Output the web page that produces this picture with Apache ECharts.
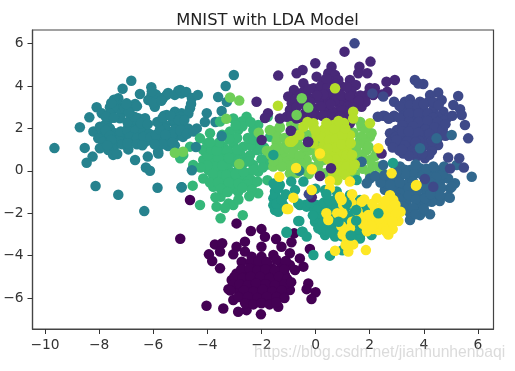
<!DOCTYPE html>
<html><head><meta charset="utf-8">
<script src="https://cdn.jsdelivr.net/npm/echarts@6/dist/echarts.min.js"></script>
<style>html,body{margin:0;padding:0;background:#fff}#c{width:515px;height:371px}</style>
</head><body><div id="c"></div>
<script>
const xTicks=[-10,-8,-6,-4,-2,0,2,4,6];
const yTicks=[-6,-4,-2,0,2,4,6];
const chartTitle="MNIST with LDA Model";
const watermark="https://blog.csdn.net/jianhunhenbaqi";
const viridis=["#440154","#482878","#3e4989","#31688e","#26828e","#1f9e89","#35b779","#6ece58","#b5de2b","#fde725"];

const digit0=[[-2.92,-2.48],[-2.39,-2.84],[-2.0,-2.75],[-1.87,-3.11],[-1.46,-3.22],[-0.79,-2.95],[-0.89,-3.37],[-3.72,-3.47],[-3.45,-3.42],[-3.53,-3.81],[-3.94,-3.94],[-3.82,-4.25],[-3.53,-4.6],[-2.92,-3.58],[-2.61,-3.34],[-2.61,-3.81],[-3.04,-3.94],[-2.0,-3.58],[-1.26,-3.58],[-0.21,-3.69],[-0.95,-3.89],[-1.56,-3.97],[-2.0,-4.05],[-2.36,-4.05],[-2.73,-4.29],[-2.36,-4.44],[-2.0,-4.44],[-1.62,-4.6],[-1.26,-4.44],[-0.95,-4.44],[-0.58,-4.13],[-0.45,-4.52],[-0.76,-4.68],[-2.92,-4.84],[-2.55,-4.76],[-2.18,-4.92],[-1.81,-4.92],[-1.44,-4.92],[-1.13,-4.92],[-3.1,-5.15],[-2.73,-5.23],[-2.36,-5.31],[-2.0,-5.31],[-1.62,-5.31],[-1.26,-5.31],[-0.27,-5.31],[-3.22,-5.58],[-2.86,-5.62],[-2.49,-5.7],[-2.12,-5.78],[-1.75,-5.7],[-1.38,-5.7],[-0.95,-5.62],[-0.33,-5.58],[0,-5.73],[-3.04,-6.09],[-2.67,-6.02],[-2.3,-6.09],[-1.93,-6.09],[-1.56,-6.02],[-0.15,-6.05],[-1.38,-6.41],[-2.55,-6.57],[-2.86,-6.65],[-2.02,-6.77],[-3.41,-6.49],[-4.03,-6.36],[-4.64,-1.38],[-5.0,-3.2],[-1.1,-5.3],[-1.2,-5.9],[-2.5,-5.2],[-2.2,-5.5],[-1.8,-4.5],[-2.7,-4.9],[-1.5,-5.0],
[-2.4,-4.3],[-2.1,-4.25],[-1.8,-4.3],[-1.45,-4.2],[-1.1,-4.25],[-2.75,-4.65],[-2.45,-4.6],[-2.15,-4.7],[-1.85,-4.65],[-1.5,-4.7],[-1.15,-4.65],[-3.0,-5.0],[-2.7,-5.05],[-2.4,-5.0],[-2.05,-5.0],[-1.7,-5.05],[-1.35,-5.0],[-1.05,-5.1],[-3.05,-5.35],[-2.8,-5.35],[-2.5,-5.4],[-2.2,-5.3],[-1.85,-5.35],[-1.5,-5.4],[-1.15,-5.35],[-0.9,-5.25],[-3.15,-5.65],[-2.65,-5.65],[-2.3,-5.7],[-1.95,-5.6],[-1.6,-5.7],[-1.25,-5.65],[-2.85,-5.95],[-2.5,-5.95],[-2.15,-6.0],[-1.8,-5.95],[-1.45,-5.95],[-1.15,-6.0],[-2.6,-6.25],[-2.3,-6.3],[-2.0,-6.25],[-1.7,-6.3],[-1.45,-6.2]];

const digit4=[[-6.81,4.25],[-7.13,3.87],[-6.07,3.94],[-6.49,3.62],[-6.06,3.58],[-6.18,3.34],[-5.94,3.02],[-7.29,3.42],[-7.35,3.18],[-5.5,3.58],[-5.65,3.42],[-5.07,3.78],[-4.95,3.65],[-8.09,3.0],[-7.9,2.71],[-8.36,2.52],[-8.71,2.05],[-8.21,1.85],[-7.97,2.08],[-7.6,3.0],[-7.41,2.95],[-6.98,3.18],[-6.67,3.15],[-6.8,3.0],[-7.1,3.0],[-7.6,2.71],[-7.66,2.4],[-7.78,2.16],[-7.6,2.0],[-7.41,1.77],[-7.85,1.77],[-8.03,1.53],[-7.85,1.37],[-7.17,2.71],[-7.23,2.48],[-6.8,2.4],[-6.55,2.48],[-6.3,2.48],[-6.67,2.16],[-6.49,2.08],[-6.92,2.08],[-7.04,1.77],[-6.8,1.77],[-6.55,1.77],[-6.43,1.53],[-6.8,1.37],[-7.04,1.53],[-7.29,1.45],[-7.41,1.22],[-5.5,2.63],[-5.2,2.79],[-4.95,2.71],[-5.26,2.32],[-5.57,2.16],[-5.14,2.0],[-5.44,1.85],[-5.69,1.69],[-4.89,2.08],[-5.2,1.61],[-5.5,1.45],[-6.12,1.45],[-5.87,1.45],[-6.3,1.37],[-5.38,1.21],[-5.81,0.82],[-8.53,1.08],[-7.97,1.06],[-8.24,0.67],[-8.46,0.38],[-7.66,0.98],[-7.48,0.75],[-7.33,0.79],[-6.92,1.01],[-6.67,0.51],[-6.2,0.67],[-6.27,0.16],[-6.12,0.0],[-8.13,-0.72],[-7.29,-1.13],[-5.84,-0.8],[-4.95,-0.78],[-6.33,-1.9],[-9.65,1.07],[-5.64,3.43],[-5.45,3.67],[-5.2,3.58],[-5.0,3.81],[-4.78,3.72],[-4.57,3.43],[-4.35,3.58],[-3.6,3.48],[-3.28,3.25],[-3.32,4.0],[-3.02,4.52],[-3.47,2.82],[-4.02,2.72],[-4.09,2.3],[-3.7,2.3],[-4.39,2.0],[-4.71,2.0],[-4.9,1.6],[-5.2,1.2],[-5.45,1.17],[-5.82,0.9],[-4.64,2.95],[-4.7,2.7],[-5.0,2.55],[-5.25,2.4],[-5.6,2.6],[-5.55,2.0],[-5.2,1.95],[-5.3,1.7],
[-7.75,2.55],[-7.45,2.5],[-7.9,2.0],[-7.75,1.9],[-7.6,1.65],[-7.2,1.85],[-6.95,1.9],[-6.65,1.9],[-6.35,1.9],[-6.15,1.75],[-6.95,2.3],[-6.7,2.55],[-6.45,2.25],[-6.2,2.2],[-6.85,1.6],[-6.6,1.55],[-6.35,1.6],[-6.1,1.6],[-5.9,1.7],[-7.15,1.25],[-6.95,1.3],[-6.6,1.25],[-6.4,1.2],[-7.55,1.45],[-7.7,1.2],[-7.05,2.95],[-6.9,2.75],[-5.75,1.95],[-5.85,2.3],[-5.65,2.5],[-5.35,2.6],[-5.05,2.4],[-4.85,2.4],[-5.0,1.9],[-4.75,1.75],[-5.3,1.35],[-5.55,1.7],[-5.65,1.25],[-5.95,1.25],[-4.5,1.85],[-4.6,3.15],[-5.9,3.6],[-6.05,3.75],[-6.0,3.2],[-7.0,3.15],[-6.6,3.05],[-7.45,3.35],[-7.55,3.2],[-5.7,3.3]];

const digit6=[[-4.15,0.98],[-3.78,1.14],[-3.41,1.14],[-3.04,1.29],[-2.67,1.14],[-3.9,0.82],[-3.53,0.82],[-3.16,0.82],[-2.79,0.82],[-2.42,0.74],[-4.15,0.51],[-3.78,0.43],[-3.41,0.51],[-3.04,0.43],[-2.67,0.35],[-2.3,0.27],[-3.96,0.04],[-3.59,0.04],[-3.22,0.04],[-2.86,0.04],[-2.49,-0.12],[-2.12,-0.04],[-4.15,-0.36],[-3.78,-0.36],[-3.41,-0.36],[-3.04,-0.44],[-2.67,-0.36],[-2.3,-0.59],[-1.78,-0.44],[-3.78,-0.75],[-3.04,-0.83],[-2.12,-1.06],[-2.86,-0.99],[-4.54,-0.7],[-3.51,-1.22],[-3.22,-1.54],[-3.66,-1.69],[-3.04,-1.61],[-4.27,-1.61],[-2.69,-2.09],[-3.51,-2.24],[-2.18,0.98],[-2.12,1.29],[-1.81,0.59],[-2.42,1.22],[-3.3,0.3],[-3.6,0.6],[-3.0,0.7],[-3.5,-0.1],[-3.1,-0.1],[-2.8,-0.2],[-3.3,-0.7],[-2.6,0.6],[-2.4,-0.4],[-2.55,2.55],[-3.04,2.47],[-3.53,2.32],[-2.73,2.32],[-2.12,2.16],[-1.68,1.61],[-2.3,1.92],[-2.86,1.92],[-3.16,1.85],[-3.9,1.77],[-4.27,1.53],[-4.64,1.14],[-4.89,0.74],[-5.0,0.59],[-4.52,0.27],[-4.0,1.3],[-3.45,1.7],[-1.77,2.55],[-1.5,0.95],[-1.9,1.1],[-1.75,0.3],
[-4.0,0.7],[-3.85,1.0],[-3.65,0.95],[-3.25,0.95],[-2.9,1.0],[-3.7,0.2],[-3.45,0.25],[-3.2,0.6],[-2.85,0.5],[-2.45,0.45],[-4.0,0.25],[-4.25,0.15],[-3.8,-0.15],[-3.3,-0.2],[-2.95,-0.15],[-2.65,-0.05],[-2.3,0.05],[-3.9,-0.55],[-3.6,-0.55],[-3.2,-0.55],[-2.85,-0.6],[-2.55,-0.65],[-3.5,-0.85],[-3.25,-1.0],[-2.7,-0.8],[-2.35,-0.9],[-2.9,1.55],[-3.2,1.5],[-2.5,1.55],[-3.55,1.35],[-3.9,1.35],[-2.7,2.1],[-2.4,2.3],[-2.95,2.15],[-2.3,1.5],[-2.05,1.0],[-2.0,0.55],[-1.95,0.15],[-2.15,-0.5],[-2.45,-1.2],[-3.7,-1.25],[-3.35,-1.75],[-2.85,-1.35]];

const digit7=[[-1.44,1.37],[-1.19,0.82],[-0.95,0.59],[-0.64,1.22],[-0.45,0.82],[-0.14,1.06],[0.04,0.67],[-0.33,0.51],[-0.76,0.35],[-1.13,0.43],[-0.95,-0.12],[-0.45,0.04],[0.29,0.51],[0.35,-0.12],[0.78,-0.2],[1.64,1.45],[1.89,0.98],[1.58,0.82],[2.01,0.51],[2.5,-0.12],[-1.56,0.2],[1.7,2.08],[2.01,1.61],[1.39,1.14],[1.7,1.61],[2.07,1.77],[2.26,0.98],[-1.5,1.85],[-1.32,2.03],[-0.82,1.22],[1.15,1.53],[-1.2,0.89],[-3.16,3.46],[-2.82,3.31],[-3.3,2.45],[-2.82,0.32],[-4.9,0.9],[-2.1,1.8],[-1.69,1.92],[-1.32,2.07],[-0.7,2.0],[-0.9,1.8],[-0.3,1.7],[1.6,0.3],[2.0,-0.1],[1.3,0.0],
[-1.1,1.2],[-1.3,1.0],[-1.0,1.05],[-0.8,0.85],[-0.6,0.7],[-0.25,0.95],[-0.2,0.2],[0.1,0.3],[0.1,1.0],[-0.55,0.35],[-1.0,0.25],[-1.25,0.2],[-1.4,0.55],[-0.7,-0.1],[-0.25,-0.15],[0.1,0.0],[-1.4,1.6],[-1.15,1.55],[-0.95,1.55],[-0.6,1.6],[-0.35,1.15],[-0.05,1.5],[0.2,1.45],[1.4,1.8],[1.55,1.2],[1.8,1.3],[1.95,1.15],[2.2,0.7],[1.75,0.6],[1.5,0.55],[2.1,0.25],[1.75,0.1],[1.45,-0.15],[2.3,0.2],[-0.6,0.0],[1.85,2.0],[1.65,2.3],[1.2,2.2],[-0.9,2.2],[-0.55,1.85],[-1.5,1.05],[-1.65,0.75],[-1.55,0.45],[-1.8,0.95]];

const digit1=[[1.07,5.62],[-1.38,4.49],[-0.01,5.07],[0.59,4.91],[1.62,4.91],[2.03,5.15],[-0.48,4.75],[-0.7,4.6],[1.58,4.6],[1.91,4.6],[0.04,4.44],[0.47,4.6],[0.72,4.52],[0.29,4.2],[0.59,4.2],[0.84,4.28],[-0.45,4.13],[0.96,3.97],[1.27,4.28],[1.49,4.05],[2.62,4.2],[2.93,4.28],[2.65,3.73],[2.19,3.89],[1.89,3.57],[2.13,3.57],[1.33,3.73],[-0.8,3.81],[-1.01,3.5],[-0.45,3.73],[-0.08,3.89],[0.16,3.81],[-0.08,3.42],[0.16,3.34],[0.47,3.42],[0.78,3.57],[1.09,3.34],[1.39,3.34],[-0.88,3.18],[-0.95,2.87],[-0.39,3.1],[-0.02,2.94],[0.35,2.87],[0.66,2.79],[1.7,3.02],[0,2.63],[-1.32,2.47],[-1.07,2.55],[-0.7,2.47],[-0.39,2.71],[0.47,2.55],[1.15,2.47],[1.27,2.24],[-0.89,1.88],[0.6,3.7],[0.4,3.1],[0.9,3.1],[-2.18,3.26],[-1.76,2.72],[-1.87,2.49],
[0.2,4.0],[0.45,3.95],[0.75,3.85],[0.3,3.6],[0.05,3.55],[-0.3,3.45],[-0.25,3.85],[-0.6,3.55],[-0.75,3.35],[0.7,3.3],[0.95,3.55],[1.25,3.55],[1.15,3.95],[0.75,4.1],[0.4,4.35],[0.55,3.15],[0.2,3.05],[1.2,3.05],[1.0,2.85],[-0.2,3.25],[-0.7,3.0],[-0.15,2.65],[-0.55,2.5],[0.25,2.6],[0.65,2.5],[0.9,2.55],[1.65,3.55],[1.85,3.25],[1.6,3.3],[2.0,3.9],[2.45,3.6],[1.4,3.0],[1.25,2.75],[-0.9,2.6]];

const digit2=[[3.67,4.28],[3.98,4.09],[3.8,4.12],[5.27,3.53],[4.53,3.69],[4.23,3.57],[2.9,3.26],[3.3,3.26],[3.49,3.37],[3.86,3.26],[4.17,3.26],[4.66,3.34],[5.09,3.1],[5.34,2.9],[5.4,2.63],[5.52,2.16],[5.64,1.53],[2.56,2.59],[2.87,2.55],[3.24,2.87],[3.61,2.95],[3.98,2.95],[4.35,2.87],[4.72,2.79],[3.24,2.4],[3.61,2.47],[3.98,2.47],[4.84,2.47],[3.43,2.08],[3.86,2.0],[4.23,2.08],[4.6,2.16],[3.0,1.92],[2.75,1.77],[3.24,1.61],[3.61,1.69],[3.98,1.61],[4.35,1.77],[4.66,1.69],[2.75,1.37],[3.06,1.22],[3.61,1.22],[4.1,1.22],[4.53,1.22],[3.24,0.82],[3.73,0.67],[4.04,0.59],[1.44,6.01],[4.0,2.2],[3.4,1.4],[3.9,0.95],[4.3,0.95],[2.1,3.65],[2.5,3.5],
[3.5,3.1],[3.75,3.1],[4.0,3.15],[4.35,3.25],[4.55,3.1],[3.1,3.05],[2.9,2.6],[3.1,2.5],[3.45,2.7],[3.8,2.7],[4.15,2.7],[4.5,2.55],[4.75,2.35],[5.05,2.6],[4.35,2.5],[3.45,2.3],[3.8,2.3],[4.15,2.35],[4.5,2.3],[3.2,2.15],[3.6,2.1],[4.05,1.95],[4.4,2.05],[4.7,1.95],[2.5,2.6],[2.3,2.55],[2.7,2.45],[2.95,1.6],[3.2,1.85],[3.45,1.85],[3.8,1.8],[4.2,1.75],[4.5,1.5],[4.8,1.65],[4.8,2.2],[3.0,1.45],[3.3,1.2],[3.85,1.4],[4.3,1.4],[3.55,0.95],[3.7,1.35],[2.85,1.1],[3.1,0.95],[3.65,0.85],[4.2,0.75],[3.45,0.7],[3.95,0.8],[3.2,1.0]];

const digit3=[[3.12,0.2],[3.49,0.04],[3.86,0.12],[4.23,-0.12],[4.47,0.04],[2.75,-0.28],[3.12,-0.28],[3.49,-0.36],[3.86,-0.75],[4.6,-0.51],[4.9,-0.36],[5.15,-0.59],[2.56,-0.67],[2.93,-0.75],[3.3,-0.67],[3.61,-1.06],[4.1,-1.06],[4.47,-0.98],[4.97,-0.83],[4.9,-1.22],[3.3,-1.3],[3.86,-1.3],[4.35,-1.3],[5.03,-0.75],[4.96,-1.27],[4.59,-1.42],[4.29,-1.46],[4.23,-2.05],[3.86,-2.09],[3.49,-2.32],[3.36,-1.46],[3.49,-2.0],[3.79,-1.61],[4.05,-1.5],[3.24,-0.9],[2.93,-0.8],[2.56,-0.9],[5.77,-0.28],[5.21,0.27],[5.03,1.69],[4.47,1.53],[3.86,1.06],[1.7,0.43],[2.38,-0.36],[2.01,-0.36],[1.89,-0.59],[2.75,-0.43],[2.5,0.27],[2.62,-0.6],
[3.3,0.05],[3.65,-0.15],[3.95,-0.2],[3.3,-0.15],[3.7,0.3],[4.1,0.1],[4.35,0.2],[4.7,-0.15],[4.75,0.2],[4.45,-0.3],[3.0,-0.05],[2.85,-0.55],[3.1,-0.55],[3.6,-0.5],[4.0,-0.65],[4.25,-0.55],[3.45,-0.8],[3.75,-0.95],[4.2,-0.85],[4.65,-0.8],[3.1,-1.05],[3.45,-1.15],[3.7,-1.35],[4.05,-1.3],[4.6,-1.15],[4.25,-1.1],[2.75,-0.65],[3.05,-1.3],[3.25,-1.7],[3.6,-1.75],[4.0,-1.8],[3.7,-2.05],[2.4,-0.55],[2.2,-0.25],[2.55,-0.2]];

const digit5=[[-1.56,0.75],[-1.32,-0.67],[-1.5,-0.98],[-1.56,-1.3],[-1.32,-1.69],[-0.76,-0.91],[-0.45,-0.51],[0.78,-0.98],[0.04,-1.61],[-0.33,-1.69],[-0.58,-1.61],[0.35,-1.77],[0.66,-1.61],[1.27,-1.14],[1.52,-0.43],[1.64,-1.38],[-0.08,-2.08],[0.9,-1.77],[0.22,-2.79],[0.66,-2.87],[1.15,-3.03],[1.64,-3.03],[1.46,-2.48],[1.83,-2.32],[1.21,-2.09],[2.01,-2.0],[-0.6,-2.37],[-0.5,-2.87],[-1.07,-2.87],[-0.02,-2.4],[0.47,-2.16],[0.53,-4.0],[-0.08,-3.97],[0.99,-3.75],[-0.64,-2.37],[-1.07,-2.92],[-0.48,-2.87],[-0.33,-3.1],[0.72,-3.1],[0.35,-3.03],[1.45,-3.1],[1.64,-3.19],[2.07,-3.03],[0.35,-0.91],[-1.5,-1.22],[-1.5,-1.85],[-0.39,-1.61],[-0.02,-1.85],[-0.02,-2.24],[0.22,-1.61],[0.59,-1.77],[0.78,-2.24],[1.33,-2.24],[1.21,-1.61],[1.58,-2.24],[1.82,-1.77],[0.1,-2.71],[0.41,-2.79],[-1.5,-1.14],[-1.38,-0.83],[-1.56,-1.62],[-1.19,-1.62],[-1.38,-1.93],[-0.64,-1.54],
[0.05,-1.85],[0.3,-1.5],[0.5,-1.4],[0.75,-1.35],[0.95,-1.5],[1.05,-1.85],[0.65,-2.0],[0.35,-2.05],[0.15,-2.2],[0.25,-2.45],[0.6,-2.5],[0.95,-2.35],[1.15,-2.5],[1.45,-1.95],[1.6,-1.6],[1.8,-2.05],[1.35,-2.75],[0.9,-2.75],[-0.2,-1.5],[-0.1,-2.1],[0.55,-2.9],[1.6,-2.75],[1.9,-2.6],[-1.45,-1.55],[-1.25,-1.35],[-1.1,-1.1],[1.0,-3.1],[1.35,-3.25],[-1.55,-0.6]];

const digit8=[[0.53,1.77],[0.9,1.92],[0.65,1.3],[1.02,1.45],[0.29,1.92],[-0.08,2.08],[1.27,1.69],[0.78,0.82],[0.41,0.82],[1.15,0.98],[0.96,0.35],[0.6,0.35],[1.27,0.51],[0.96,-0.04],[1.33,0.04],[-0.95,1.37],[-0.08,1.3],[-0.08,2.24],[-0.45,2.08],[0.35,2.0],[0.66,2.16],[0.47,1.69],[0.9,1.69],[0.59,1.22],[0.04,1.69],[-0.89,1.37],[-1.39,3.07],[0.72,3.89],[1.39,2.79],[1.39,2.47],[2.01,2.24],[0.3,1.2],[1.0,1.0],[0.6,0.8],[-0.82,1.45],
[0.2,1.6],[0.5,1.45],[0.75,1.5],[1.1,1.2],[1.0,1.7],[0.75,1.1],[0.45,1.05],[0.15,0.95],[0.95,0.7],[1.15,0.75],[0.75,0.55],[0.45,0.55],[0.7,0.15],[1.15,0.2],[0.95,1.25],[1.3,1.3],[0.7,2.0],[0.4,2.25],[1.1,2.0],[0.65,-0.15],[1.1,-0.2],[1.45,0.3],[0.2,0.7],[1.35,0.75],[-0.3,2.3],[0.0,1.9],[1.05,2.25],[0.85,2.35],[0.8,-0.45],[-0.6,1.7]];

const digit9=[[-1.01,-1.8],[-0.15,-0.9],[0.99,-2.0],[1.27,-2.71],[0.72,-3.77],[1.21,-3.81],[1.39,-3.47],[1.11,-3.5],[1.86,-3.74],[2.69,-3.0],[2.32,-2.79],[1.89,-2.71],[2.69,-2.48],[3.06,-2.37],[3.14,-1.93],[2.81,-1.93],[2.5,-2.24],[2.19,-2.32],[2.87,-1.38],[2.56,-1.46],[2.26,-1.3],[2.19,-1.77],[1.95,-2.08],[0.47,-2.32],[1.02,-1.61],[1.33,-1.53],[0.9,-1.22],[1.15,-3.19],[1.7,-1.46],[0.53,-0.83],[2.1,-2.75],[2.45,-2.7],[2.6,-1.9],[2.3,-2.1],
[2.0,-2.4],[2.3,-2.5],[2.55,-2.3],[2.75,-2.2],[2.95,-2.05],[2.7,-1.7],[2.45,-1.7],[2.6,-1.4],[2.95,-1.6],[2.1,-1.55],[1.8,-1.35],[1.65,-2.15],[1.9,-2.85],[2.05,-2.6],[2.5,-2.7],[2.85,-2.75],[2.6,-2.85],[1.75,-2.5],[2.35,-2.25],[2.2,-1.95],[1.55,-1.9],[1.35,-2.4],[1.0,-3.0],[1.2,-3.0],[0.8,-2.0],[1.35,-1.1],[0.4,-2.0],[0.95,-2.6],[2.85,-2.4],[2.75,-1.15]];

const topDigit1=[[-0.27,1.37],[-0.92,1.89],[0.57,0.12],[0.16,-0.25],[2.44,0.82],[-1.99,1.45],[-0.28,1.36],[-0.14,-1.25]];
const topDigit2=[[4.9,0.63],[5.31,0.59],[4.97,0.11],[5.48,0.15],[4.04,-0.39],[4.35,-0.75],[-0.25,-1.1]];
const topDigit4=[[-3.47,1.64],[-4.42,1.12],[-4.95,-0.77],[-4.57,0.03],[-0.6,0.0]];
const topDigit5=[[2.32,-2.0],[2.86,0.37],[0.0,-0.85],[-0.9,-0.5],[1.5,-1.85],[0.4,-1.1],[1.15,-1.55],[1.5,-2.35],[0.85,-2.4],[1.3,-3.05]];
const topDigit7=[[-0.51,3.42],[-0.27,2.98],[-0.7,2.63],[-5.2,0.85]];
const topDigit9=[[-1.34,-0.28],[-0.72,0.13],[-0.14,0.07],[0.16,0.82],[0.53,-0.48],[-0.14,-0.91],[-1.06,-1.8],[-0.82,-1.27],[1.27,-0.51],[2.81,-0.12],[2.32,1.06],[3.71,-0.7],[0.96,-1.38],[3.73,-0.67]];

const layers=[
  [0,digit0],[4,digit4],[6,digit6],[7,digit7],[1,digit1],[2,digit2],[3,digit3],[5,digit5],[8,digit8],[9,digit9],
  [1,topDigit1],[2,topDigit2],[4,topDigit4],[5,topDigit5],[7,topDigit7],[9,topDigit9]
];
const fontFam='"DejaVu Sans",sans-serif';
const minus=v=>String(v).replace('-','\u2212');
const chart=echarts.init(document.getElementById('c'),null,{renderer:'canvas'});
chart.setOption({
  animation:false,
  backgroundColor:'#fff',
  title:{text:chartTitle,left:262.5,top:8,textAlign:'center',textStyle:{fontFamily:fontFam,fontSize:16.3,fontWeight:'normal',color:'#222'}},
  grid:{left:32.5,right:21.5,top:30,bottom:42,show:true,borderColor:'#444',borderWidth:1.2,backgroundColor:'transparent'},
  xAxis:{type:'value',min:-10.46,max:6.575,splitLine:{show:false},
    axisLine:{show:true,onZero:false,lineStyle:{color:'#444',width:1.2}},
    axisTick:{show:true,length:5,customValues:xTicks,lineStyle:{color:'#333'}},
    axisLabel:{customValues:xTicks,formatter:minus,color:'#333',fontSize:13.8,fontFamily:fontFam,margin:9}},
  yAxis:{type:'value',min:-7.46,max:6.64,splitLine:{show:false},
    axisLine:{show:true,onZero:false,lineStyle:{color:'#444',width:1.2}},
    axisTick:{show:true,length:5,customValues:yTicks,lineStyle:{color:'#333'}},
    axisLabel:{customValues:yTicks,formatter:minus,color:'#333',fontSize:13.8,fontFamily:fontFam,margin:9}},
  graphic:[{type:'text',left:254,top:345,z:100,silent:true,style:{text:watermark,fontFamily:'"Liberation Sans",sans-serif',fontSize:15.7,fill:'rgba(170,170,170,0.42)'}}],
  series:layers.map(([d,pts],i)=>({type:'scatter',name:'digit '+d,data:pts,symbolSize:10.5,z:2+i,itemStyle:{color:viridis[d],opacity:1}}))
});
</script></body></html>
